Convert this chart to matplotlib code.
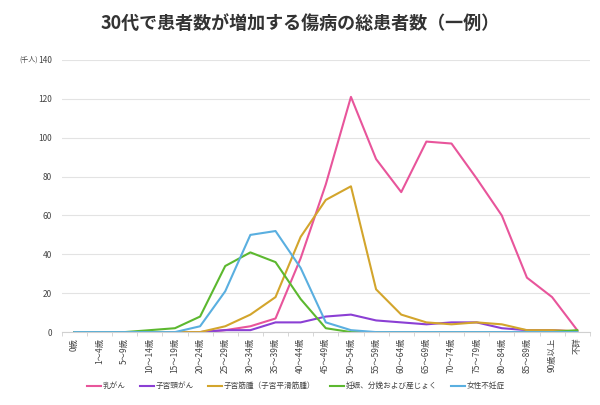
import matplotlib.pyplot as plt
import numpy as np

plt.rcParams['font.family'] = ['Noto Sans CJK JP', 'DejaVu Sans']

# 年齢階級
ages = ['0歳', '1～4歳', '5～9歳', '10～14歳', '15～19歳', '20～24歳', '25～29歳',
        '30～34歳', '35～39歳', '40～44歳', '45～49歳', '50～54歳', '55～59歳',
        '60～64歳', '65～69歳', '70～74歳', '75～79歳', '80～84歳', '85～89歳',
        '90歳以上', '不詳']

# 総患者数（千人）
breast = [0, 0, 0, 0, 0, 0, 1, 3, 7, 38, 76, 121, 89, 72, 98, 97, 79, 60, 28, 18, 1]
cervix = [0, 0, 0, 0, 0, 0, 1, 1, 5, 5, 8, 9, 6, 5, 4, 5, 5, 2, 1, 1, 0.3]
myoma = [0, 0, 0, 0, 0, 0, 3, 9, 18, 49, 68, 75, 22, 9, 5, 4, 5, 4, 1, 1, 0.5]
pregnancy = [0, 0, 0, 1, 2, 8, 34, 41, 36, 17, 2, 0, 0, 0, 0, 0, 0, 0, 0, 0, 1]
infertility = [0, 0, 0, 0, 0, 3, 21, 50, 52, 33, 5, 1, 0, 0, 0, 0, 0, 0, 0, 0, 0]

series = [
    ('乳がん', breast, '#e8559b'),
    ('子宮頸がん', cervix, '#8b3fd4'),
    ('子宮筋腫（子宮平滑筋腫）', myoma, '#d3a52c'),
    ('妊娠、分娩および産じょく', pregnancy, '#5cb82f'),
    ('女性不妊症', infertility, '#5aafe0'),
]

fig = plt.figure(figsize=(6, 4.05), dpi=100)
ax = fig.add_axes([0.103, 0.18, 0.88, 0.672])

x = np.arange(len(ages))
for name, vals, col in series:
    ax.plot(x, vals, color=col, lw=1.5, label=name)

ax.set_xlim(-0.5, len(ages) - 0.5)
ax.set_ylim(0, 140)
ax.set_yticks(np.arange(0, 141, 20))
ax.grid(axis='y', color='#e3e3e3', lw=0.8)
ax.set_axisbelow(True)
for s in ['top', 'right', 'left']:
    ax.spines[s].set_visible(False)
ax.spines['bottom'].set_color('#d0d0d0')
ax.spines['bottom'].set_linewidth(0.8)

ax.set_xticks(x)
ax.set_xticklabels(ages, rotation=90, fontsize=6, color='#444444')
ax.set_xticks(np.arange(-0.5, len(ages), 1), minor=True)
ax.tick_params(axis='x', which='major', length=0, pad=4)
ax.tick_params(axis='x', which='minor', length=3, color='#d0d0d0')
ax.tick_params(axis='y', length=0, labelsize=6, labelcolor='#444444', pad=7)

ax.text(-0.045, 1.0, '(千人)', transform=ax.transAxes, fontsize=5, color='#444444',
        ha='right', va='center')

fig.suptitle('30代で患者数が増加する傷病の総患者数（一例）', x=0.5, y=0.965,
             fontsize=13, fontweight='bold', color='#333333')

ax.legend(loc='center left', bbox_to_anchor=(0.047, -0.199), ncol=5, frameon=False,
          fontsize=5.5, handlelength=1.85, columnspacing=1.9, handletextpad=0.2,
          borderaxespad=0, borderpad=0, labelcolor='#444444')

fig.savefig('out.png', dpi=100)
